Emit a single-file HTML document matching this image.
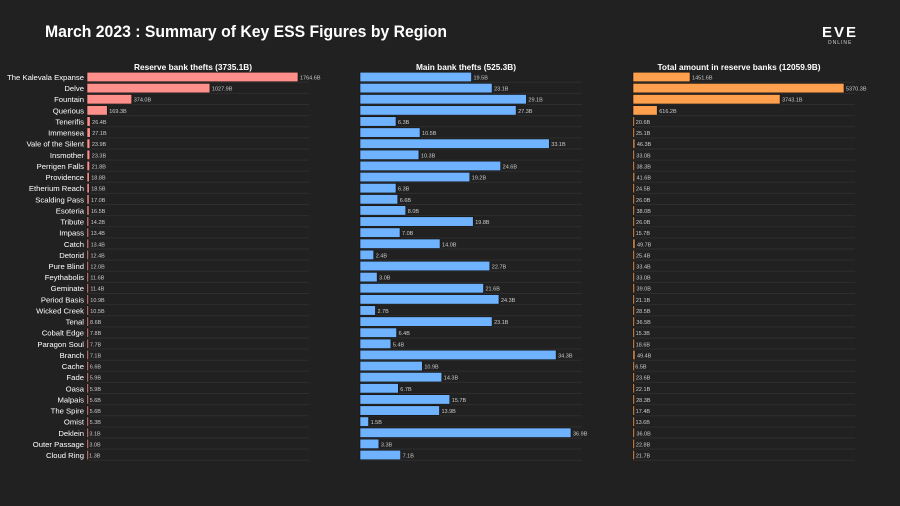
<!DOCTYPE html>
<html><head><meta charset="utf-8"><style>
body{margin:0;background:#212121;width:900px;height:506px;overflow:hidden;font-family:"Liberation Sans",sans-serif}
svg{display:block}
</style></head><body>
<svg id="c" width="900" height="506">
<text x="45" y="37" fill="#fff" font-size="17" font-weight="bold" textLength="402" lengthAdjust="spacingAndGlyphs">March 2023 : Summary of Key ESS Figures by Region</text>
<g>
<text x="840" y="37" fill="#fff" font-size="15" font-weight="bold" text-anchor="middle" letter-spacing="2">EVE</text>
<text x="840" y="44" fill="#ccc" font-size="5" text-anchor="middle" letter-spacing="1">ONLINE</text>
</g>
</svg>
<script>
const regions=["The Kalevala Expanse","Delve","Fountain","Querious","Tenerifis","Immensea","Vale of the Silent","Insmother","Perrigen Falls","Providence","Etherium Reach","Scalding Pass","Esoteria","Tribute","Impass","Catch","Detorid","Pure Blind","Feythabolis","Geminate","Period Basis","Wicked Creek","Tenal","Cobalt Edge","Paragon Soul","Branch","Cache","Fade","Oasa","Malpais","The Spire","Omist","Deklein","Outer Passage","Cloud Ring"];
const reserveThefts=[1764.6,1027.9,374.0,169.3,26.4,27.1,23.9,23.3,21.8,18.8,18.5,17.0,16.5,14.2,13.4,13.4,12.4,12.0,11.6,11.4,10.9,10.5,8.6,7.8,7.7,7.1,6.6,5.9,5.9,5.6,5.6,5.3,3.1,3.0,1.3];
const mainThefts=[19.5,23.1,29.1,27.3,6.3,10.5,33.1,10.3,24.6,19.2,6.3,6.6,8.0,19.8,7.0,14.0,2.4,22.7,3.0,21.6,24.3,2.7,23.1,6.4,5.4,34.3,10.9,14.3,6.7,15.7,13.9,1.5,36.9,3.3,7.1];
const reserveTotal=[1451.6,5370.3,3743.1,616.2,20.6,25.1,46.3,33.0,38.3,41.6,24.5,26.0,38.0,26.0,15.7,49.7,25.4,33.4,33.0,39.0,21.1,28.5,36.5,15.3,18.6,49.4,6.5,23.6,22.1,28.3,17.4,13.6,36.0,22.8,21.7];
const panelTitles=["Reserve bank thefts (3735.1B)","Main bank thefts (525.3B)","Total amount in reserve banks (12059.9B)"];
const svg=document.getElementById('c');const NS="http://www.w3.org/2000/svg";
function mk(t,a,p){const e=document.createElementNS(NS,t);for(const k in a)e.setAttribute(k,a[k]);(p||svg).appendChild(e);return e;}
const y0=77,step=(455-77)/34,bh=9.5;
const yPos=i=>y0+i*step;
const panels=[{data:reserveThefts,x0:87,gw:222,color:"#ff8f8a",name:"reserve-thefts"},{data:mainThefts,x0:360,gw:222,color:"#6fb3ff",name:"main-thefts"},{data:reserveTotal,x0:633,gw:222,color:"#ffa04f",name:"reserve-total"}];
panels.forEach((p,pi)=>{
  const max=Math.max(...p.data);const xs=v=>p.x0+v/max*211;
  const g=mk('g',{});
  
  
  const t=mk('text',{x:p.x0+106,y:70,fill:'#fff','font-size':8.3,'font-weight':'bold','text-anchor':'middle'},g);
  t.textContent=panelTitles[pi];
  
  
  p.data.forEach((v,i)=>{
    const y=yPos(i);
    const gl=mk('line',{x1:p.x0,x2:p.x0+p.gw,y1:y+bh/2+0.5,y2:y+bh/2+0.5,stroke:'#2e2e2e','stroke-width':1},g);
    
    
    const r=mk('rect',{x:p.x0,y:y-bh/2,width:Math.max(xs(v)-p.x0,1.5),height:bh,fill:p.color,stroke:'#111','stroke-width':0.6},g);
    
    
    const l=mk('text',{x:xs(v)+2,y:y+2.5,fill:'#ccc','font-size':5.5},g);
    l.textContent=v.toFixed(1)+'B';
    
    
    if(pi===0){
      const c=mk('text',{x:84,y:y+3,fill:'#fff','font-size':7.7,'text-anchor':'end'},g);
      c.textContent=regions[i];
      
      
    }
  });
});
</script>
</body></html>
